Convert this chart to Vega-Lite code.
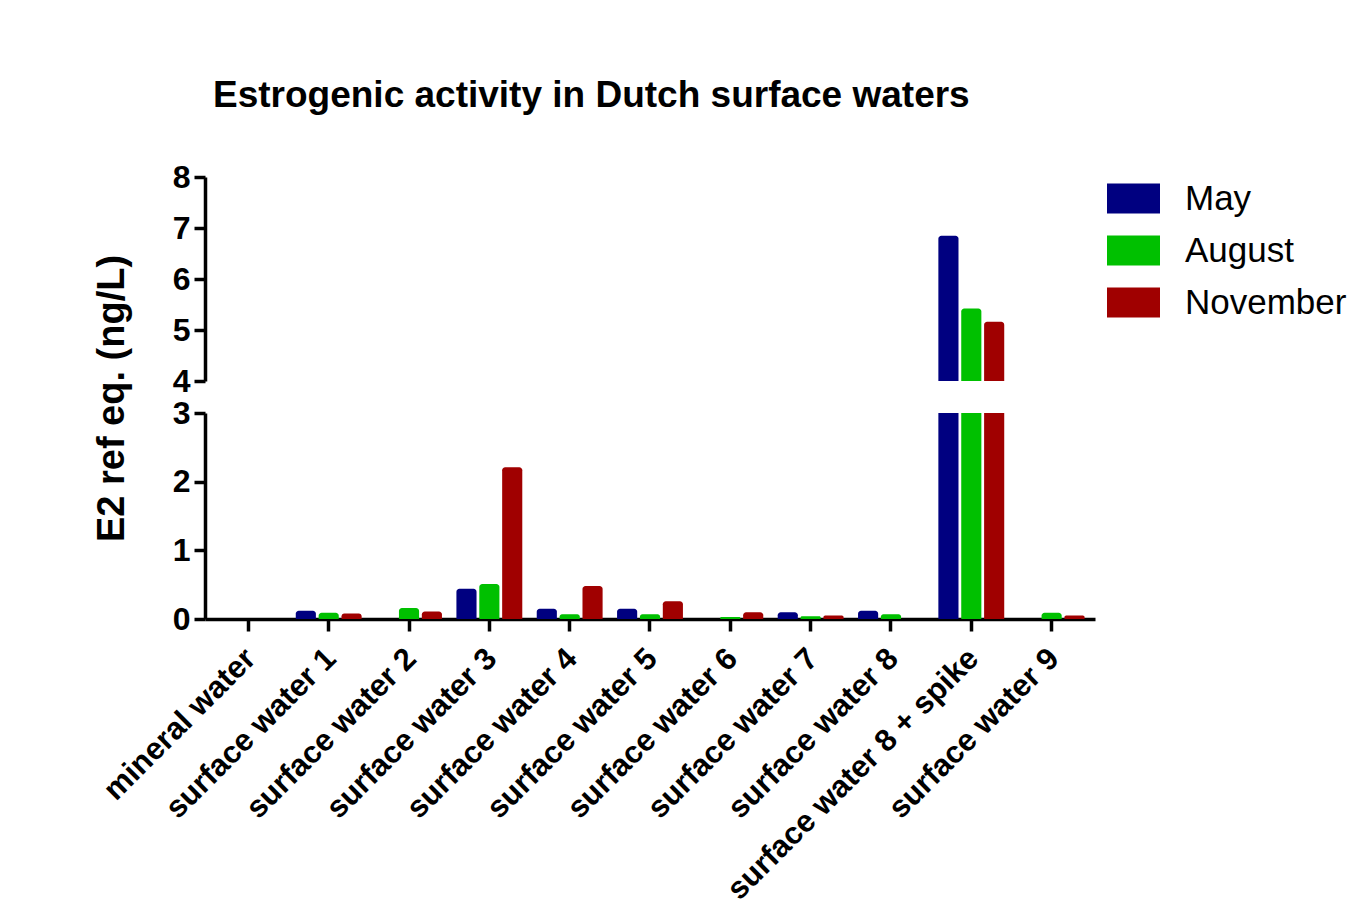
{
  "$schema": "https://vega.github.io/schema/vega-lite/v6.json",
  "padding": {"left": 92, "top": 77, "right": 10, "bottom": 0},
  "background": "white",
  "bounds": "flush",
  "title": {
    "text": "Estrogenic activity in Dutch surface waters",
    "anchor": "start",
    "frame": "group",
    "dx": 8,
    "offset": 46,
    "font": "Liberation Sans",
    "fontSize": 37,
    "fontWeight": "bold",
    "color": "black"
  },
  "data": {
    "values": [
      {"sample": "mineral water", "month": "May", "value": 0},
      {"sample": "mineral water", "month": "August", "value": 0},
      {"sample": "mineral water", "month": "November", "value": 0},
      {"sample": "surface water 1", "month": "May", "value": 0.12},
      {"sample": "surface water 1", "month": "August", "value": 0.09},
      {"sample": "surface water 1", "month": "November", "value": 0.08},
      {"sample": "surface water 2", "month": "May", "value": 0},
      {"sample": "surface water 2", "month": "August", "value": 0.16},
      {"sample": "surface water 2", "month": "November", "value": 0.11},
      {"sample": "surface water 3", "month": "May", "value": 0.44},
      {"sample": "surface water 3", "month": "August", "value": 0.51},
      {"sample": "surface water 3", "month": "November", "value": 2.21},
      {"sample": "surface water 4", "month": "May", "value": 0.15},
      {"sample": "surface water 4", "month": "August", "value": 0.07},
      {"sample": "surface water 4", "month": "November", "value": 0.48},
      {"sample": "surface water 5", "month": "May", "value": 0.15},
      {"sample": "surface water 5", "month": "August", "value": 0.07},
      {"sample": "surface water 5", "month": "November", "value": 0.26},
      {"sample": "surface water 6", "month": "May", "value": 0},
      {"sample": "surface water 6", "month": "August", "value": 0.03},
      {"sample": "surface water 6", "month": "November", "value": 0.1},
      {"sample": "surface water 7", "month": "May", "value": 0.1},
      {"sample": "surface water 7", "month": "August", "value": 0.04},
      {"sample": "surface water 7", "month": "November", "value": 0.05},
      {"sample": "surface water 8", "month": "May", "value": 0.12},
      {"sample": "surface water 8", "month": "August", "value": 0.07},
      {"sample": "surface water 8", "month": "November", "value": 0},
      {"sample": "surface water 8 + spike", "month": "May", "value": 6.85},
      {"sample": "surface water 8 + spike", "month": "August", "value": 5.42},
      {"sample": "surface water 8 + spike", "month": "November", "value": 5.16},
      {"sample": "surface water 9", "month": "May", "value": 0},
      {"sample": "surface water 9", "month": "August", "value": 0.09},
      {"sample": "surface water 9", "month": "November", "value": 0.05}
    ]
  },
  "config": {
    "view": {"stroke": null},
    "font": "Liberation Sans",
    "axis": {
      "domainColor": "black",
      "domainWidth": 3.5,
      "tickColor": "black",
      "tickWidth": 3.5,
      "tickSize": 11,
      "labelColor": "black",
      "labelFont": "Liberation Sans",
      "labelFontWeight": "bold",
      "labelFontSize": 32,
      "grid": false,
      "titleColor": "black"
    }
  },
  "vconcat": [
    {
      "width": 890,
      "height": 204,
      "mark": {"type": "bar", "clip": true, "cornerRadiusTopLeft": 3, "cornerRadiusTopRight": 3},
      "encoding": {
        "x": {
          "field": "sample", "type": "nominal", "sort": null,
          "scale": {"paddingInner": 0.18, "paddingOuter": 0.13},
          "axis": null
        },
        "xOffset": {
          "field": "month", "type": "nominal",
          "sort": ["May", "August", "November"],
          "scale": {"paddingInner": 0.12, "paddingOuter": 0}
        },
        "y": {
          "field": "value", "type": "quantitative", "stack": null,
          "scale": {"domain": [4, 8], "nice": false, "zero": false},
          "axis": {
            "values": [4, 5, 6, 7, 8],
            "labelPadding": 4,
            "title": "E2 ref eq. (ng/L)",
            "titleFont": "Liberation Sans",
            "titleFontSize": 38,
            "titleFontWeight": "bold",
            "titleX": -93,
            "titleY": 221,
            "titleAngle": -90,
            "titleAlign": "center",
            "titleBaseline": "middle"
          }
        },
        "y2": {"datum": 0},
        "color": {
          "field": "month", "type": "nominal",
          "scale": {"domain": ["May", "August", "November"], "range": ["#000080", "#00C000", "#A00000"]},
          "legend": {
            "title": null,
            "orient": "right",
            "offset": 17,
            "padding": -5,
            "symbolType": "M-1,-0.566H1V0.566H-1Z",
            "symbolSize": 2809,
            "symbolStrokeWidth": 0,
            "symbolOpacity": 1,
            "labelFont": "Liberation Sans",
            "labelFontSize": 35,
            "labelFontWeight": "normal",
            "labelColor": "black",
            "labelOffset": 25,
            "rowPadding": 7,
            "labelLimit": 400
          }
        }
      }
    },
    {
      "width": 890,
      "height": 206,
      "mark": {"type": "bar", "clip": true, "cornerRadiusTopLeft": 3, "cornerRadiusTopRight": 3},
      "encoding": {
        "x": {
          "field": "sample", "type": "nominal", "sort": null,
          "scale": {"paddingInner": 0.18, "paddingOuter": 0.13},
          "axis": {
            "title": null,
            "labelAngle": -45,
            "labelFontSize": 31,
            "tickSize": 12,
            "labelPadding": 12,
            "labelOffset": -8,
            "labelLimit": 600
          }
        },
        "xOffset": {
          "field": "month", "type": "nominal",
          "sort": ["May", "August", "November"],
          "scale": {"paddingInner": 0.12, "paddingOuter": 0}
        },
        "y": {
          "field": "value", "type": "quantitative", "stack": null,
          "scale": {"domain": [0, 3], "nice": false},
          "axis": {"values": [0, 1, 2, 3], "labelPadding": 4, "title": null}
        },
        "y2": {"datum": 0},
        "color": {
          "field": "month", "type": "nominal",
          "scale": {"domain": ["May", "August", "November"], "range": ["#000080", "#00C000", "#A00000"]}
        }
      }
    }
  ],
  "spacing": 32
}
